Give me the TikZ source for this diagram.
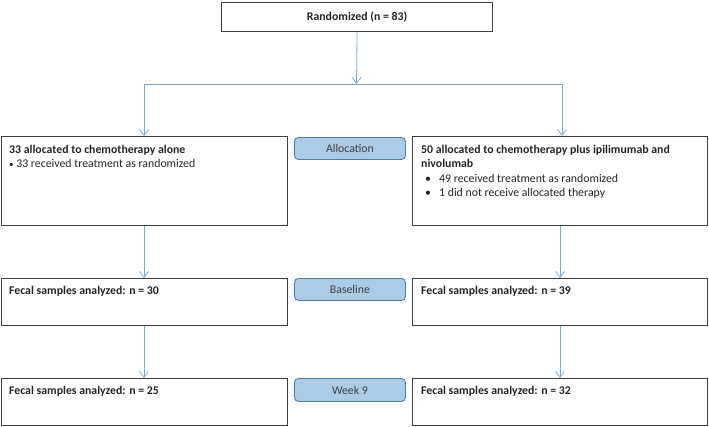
\documentclass[tikz,border=0pt]{standalone}
\usepackage{fontspec}
\setmainfont{Carlito}
\usetikzlibrary{arrows.meta}
\definecolor{arr}{RGB}{125,170,210}
\definecolor{lblfill}{RGB}{170,204,230}
\definecolor{lbldraw}{RGB}{80,125,170}
\definecolor{boxdraw}{RGB}{64,64,64}
\begin{document}
\begin{tikzpicture}[x=1pt,y=-1pt,
 box/.style={draw=boxdraw,line width=1.1pt,fill=white,inner sep=0,anchor=north west},
 lbl/.style={draw=lbldraw,fill=lblfill,rounded corners=4pt,line width=0.9pt,inner sep=0,anchor=north west,font=\fontsize{11.8}{14}\selectfont,text=black!75},
 txt/.style={anchor=base west,inner sep=0,font=\fontsize{11.8}{14}\selectfont,text=black!85},
 btxt/.style={anchor=base west,inner sep=0,font=\fontsize{11.8}{14}\selectfont\bfseries,text=black!85},
 conn/.style={draw=arr,line width=0.8pt,-{Straight Barb[length=6pt,width=9pt]}},
 plain/.style={draw=arr,line width=0.8pt}]
\useasboundingbox (0,0) rectangle (709,426);
% boxes
\node[box,minimum width=271pt,minimum height=29pt,font=\fontsize{11.8}{14}\selectfont\bfseries,text=black!85] (top) at (221,2) {Randomized (n = 83)};
\node[box,minimum width=286pt,minimum height=89pt] (al1) at (1,136) {};
\node[box,minimum width=295pt,minimum height=89pt] (al2) at (412,136) {};
\node[box,minimum width=286pt,minimum height=47pt] (ba1) at (1,278) {};
\node[box,minimum width=295pt,minimum height=47pt] (ba2) at (412,278) {};
\node[box,minimum width=286pt,minimum height=47pt] (wk1) at (1,378) {};
\node[box,minimum width=295pt,minimum height=47pt] (wk2) at (412,378) {};
% stage labels
\node[lbl,minimum width=111pt,minimum height=22pt] (lalloc) at (294,137) {Allocation};
\node[lbl,minimum width=111pt,minimum height=22pt] (lbase) at (294,278) {Baseline};
\node[lbl,minimum width=111pt,minimum height=23pt] (lweek) at (294,378) {Week 9};
% texts
\node[btxt] (t1a) at (9,153) {33 allocated to chemotherapy alone};
\node[txt] (t1b) at (9,167.5) {{\small\textbullet}\ 33 received treatment as randomized};
\node[btxt] (t2a) at (421,153) {50 allocated to chemotherapy plus ipilimumab and};
\node[btxt] (t2b) at (421,167.5) {nivolumab};
\node[txt] (t2c) at (425,182) {\makebox[14pt][l]{\textbullet}49 received treatment as randomized};
\node[txt] (t2d) at (425,196.5) {\makebox[14pt][l]{\textbullet}1 did not receive allocated therapy};
\node[btxt] (t3a) at (9,294) {Fecal samples analyzed: n = 30};
\node[btxt] (t3b) at (421,294) {Fecal samples analyzed: n = 39};
\node[btxt] (t4a) at (9,394) {Fecal samples analyzed: n = 25};
\node[btxt] (t4b) at (421,394) {Fecal samples analyzed: n = 32};
% connectors
\coordinate (j) at (356.5,84);
\coordinate (jl) at (144,84);
\coordinate (jr) at (562,84);
\coordinate (cl) at (144,0);
\coordinate (cr) at (560,0);
\draw[conn] (top.south) -- (j);
\draw[plain] (jl) -- (jr);
\draw[conn] (jl) -- (jl |- al1.north);
\draw[conn] (jr) -- (jr |- al2.north);
\draw[conn] (cl |- al1.south) -- (cl |- ba1.north);
\draw[conn] (cr |- al2.south) -- (cr |- ba2.north);
\draw[conn] (cl |- ba1.south) -- (cl |- wk1.north);
\draw[conn] (cr |- ba2.south) -- (cr |- wk2.north);
\end{tikzpicture}
\end{document}
